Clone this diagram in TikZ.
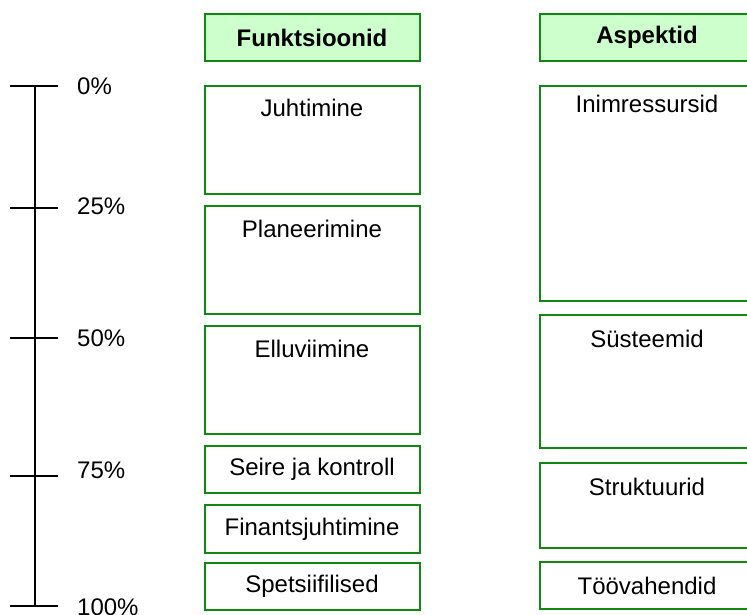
\documentclass[tikz,border=0pt]{standalone}
\usepackage{fontspec}
\setmainfont{Liberation Sans}
\definecolor{boxline}{HTML}{118811}
\definecolor{headfill}{HTML}{CCFFCC}
\tikzset{
  every node/.style={font=\fontsize{24}{28}\selectfont},
  frame/.style={draw=boxline, line width=2pt, fill=white, inner sep=0pt, anchor=north west},
  headbox/.style={frame, fill=headfill},
  boxtext/.style={anchor=base, inner sep=0pt},
  scaleline/.style={draw=black, line width=2pt},
  pct/.style={anchor=west, inner sep=0pt},
}
\begin{document}
\begin{tikzpicture}[x=1pt, y=-1pt]
  \clip (0,0) rectangle (747,615);
  \fill[white] (0,0) rectangle (747,615);

  % percentage scale
  \coordinate (s0) at (35,86);
  \coordinate (s100) at (35,606);
  \draw[scaleline] (s0) -- (s100);
  \foreach \y/\t/\ly in {86/0/86, 208/25/206, 338/50/338, 476/75/470, 606/100/607} {
    \draw[scaleline] (10,\y) -- (58,\y);
    \node[pct] at (77,\ly) {\t\%};
  }

  % column of functions
  \node[headbox, minimum width=215pt, minimum height=47pt] (hf) at (203.5,13) {};
  \node at (hf.center) {\bfseries Funktsioonid};

  \node[frame, minimum width=215pt, minimum height=108pt] (juht) at (203.5,85) {};
  \node[boxtext] at ([yshift=-32pt]juht.north) {Juhtimine};

  \node[frame, minimum width=215pt, minimum height=108pt] (plan) at (203.5,205) {};
  \node[boxtext] at ([yshift=-32pt]plan.north) {Planeerimine};

  \node[frame, minimum width=215pt, minimum height=108pt] (ellu) at (203.5,325) {};
  \node[boxtext] at ([yshift=-32pt]ellu.north) {Elluviimine};

  \node[frame, minimum width=215pt, minimum height=47pt] (seire) at (203.5,445) {};
  \node at (seire.center) {Seire ja kontroll};

  \node[frame, minimum width=215pt, minimum height=48pt] (fin) at (203.5,504) {};
  \node at (fin.center) {Finantsjuhtimine};

  \node[frame, minimum width=215pt, minimum height=47pt] (spets) at (203.5,562) {};
  \node at (spets.center) {Spetsiifilised};

  % column of aspects
  \node[headbox, minimum width=215pt, minimum height=47pt] (ha) at (538.5,13) {};
  \node at (ha.center) {\bfseries Aspektid};

  \node[frame, minimum width=215pt, minimum height=215pt] (inim) at (538.5,85) {};
  \node[boxtext] at ([yshift=-28pt]inim.north) {Inimressursid};

  \node[frame, minimum width=215pt, minimum height=133pt] (syst) at (538.5,314) {};
  \node[boxtext] at ([yshift=-33pt]syst.north) {Süsteemid};

  \node[frame, minimum width=215pt, minimum height=85pt] (strukt) at (538.5,462) {};
  \node[boxtext] at ([yshift=-33pt]strukt.north) {Struktuurid};

  \node[frame, minimum width=215pt, minimum height=47pt] (toov) at (538.5,561) {};
  \node at (toov.center) {Töövahendid};
\end{tikzpicture}
\end{document}
